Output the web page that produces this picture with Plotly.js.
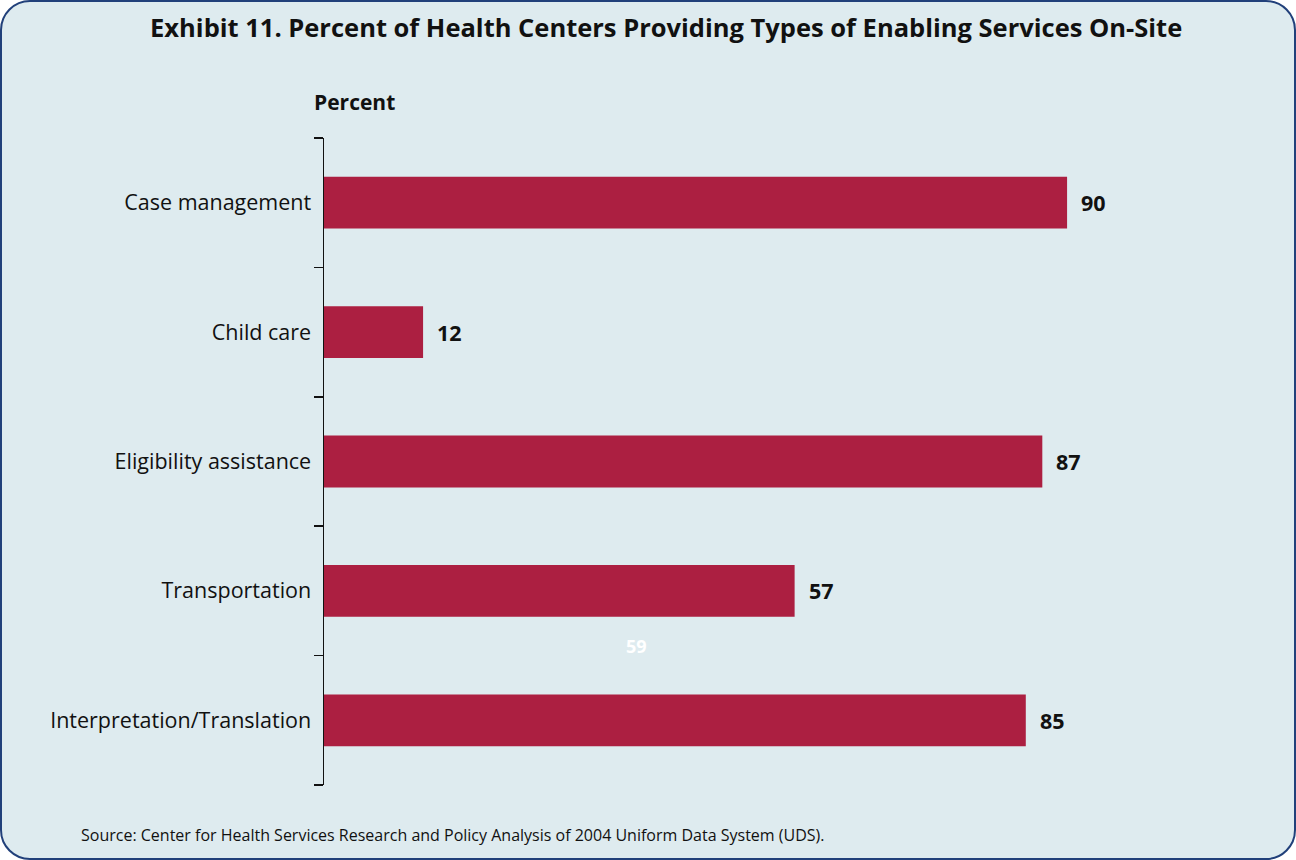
<!DOCTYPE html>
<html>
<head>
<meta charset="utf-8">
<script src="https://cdn.plot.ly/plotly-3.0.1.min.js"></script>
<style>
  html, body { margin: 0; padding: 0; background: #ffffff; }
  #frame { position: absolute; left: 0; top: 0; width: 1296px; height: 860px; box-sizing: border-box;
           border: 2px solid #21407a; border-radius: 30px; background: #deebef; }
  #chart { position: absolute; left: 0; top: 0; width: 1296px; height: 860px; }
</style>
</head>
<body>
<div id="frame"></div>
<div id="chart"></div>
<script>
const categories = ["Case management", "Child care", "Eligibility assistance", "Transportation", "Interpretation/Translation"];
const percents = [90, 12, 87, 57, 85];
const chartTitle = "Exhibit 11. Percent of Health Centers Providing Types of Enabling Services On-Site";
const axisLabel = "Percent";
const sourceNote = "Source: Center for Health Services Research and Policy Analysis of 2004 Uniform Data System (UDS).";
const strayLabel = "59";

const FONT = "'Open Sans', 'Noto Sans', sans-serif";
const barColor = "#ac1f41";

const trace = {
  type: "bar",
  orientation: "h",
  x: percents,
  y: categories,
  marker: { color: barColor, line: { width: 0 } },
  width: 0.4,
  hoverinfo: "skip"
};

// empty helper trace so the boundary-tick overlay axis is drawn
const tickHelper = { type: "scatter", x: [], y: [], xaxis: "x", yaxis: "y2", hoverinfo: "skip", showlegend: false };

const boundaries = [];
for (let i = 0; i <= categories.length; i++) boundaries.push(i - 0.5);

const valueAnnotations = percents.map((v, i) => ({
  x: v, y: categories[i], xref: "x", yref: "y",
  text: "<b>" + v + "</b>", showarrow: false,
  xanchor: "left", yanchor: "middle", xshift: 12,
  font: { family: FONT, size: 21.5, color: "#111111" }
}));

const layout = {
  width: 1296, height: 860,
  paper_bgcolor: "rgba(0,0,0,0)", plot_bgcolor: "rgba(0,0,0,0)",
  margin: { l: 324, r: 6, t: 138, b: 75 },
  showlegend: false,
  title: {
    text: "<b>" + chartTitle + "</b>",
    x: 0.514, xanchor: "center", y: 0.967, yanchor: "middle",
    font: { family: FONT, size: 25.5, color: "#111111" }
  },
  xaxis: {
    range: [0, 117], visible: false, fixedrange: true
  },
  yaxis: {
    type: "category",
    categoryorder: "array", categoryarray: categories,
    range: [4.5, -0.5],
    showline: true, linecolor: "#111111", linewidth: 1.5,
    ticks: "", ticklabelstandoff: 7,
    showgrid: false, zeroline: false,
    tickfont: { family: FONT, size: 21.5, color: "#111111" },
    fixedrange: true
  },
  yaxis2: {
    type: "linear", overlaying: "y", side: "left", anchor: "x",
    range: [4.5, -0.5],
    tickmode: "array", tickvals: boundaries, showticklabels: false,
    ticks: "outside", ticklen: 9, tickwidth: 1.5, tickcolor: "#111111",
    showline: false, showgrid: false, zeroline: false, fixedrange: true
  },
  annotations: valueAnnotations.concat([
    { xref: "paper", yref: "paper", x: 0, y: 1, xanchor: "left", yanchor: "bottom",
      xshift: -12, yshift: 20, text: "<b>" + axisLabel + "</b>", showarrow: false,
      font: { family: FONT, size: 21, color: "#111111" } },
    { xref: "x", yref: "paper", x: 37.9, y: 0.215, xanchor: "center", yanchor: "middle",
      text: "<b>" + strayLabel + "</b>", showarrow: false,
      font: { family: FONT, size: 18, color: "#ffffff" } },
    { xref: "paper", yref: "paper", x: 0, y: 0, xanchor: "left", yanchor: "middle",
      xshift: -245, yshift: -50, text: sourceNote, showarrow: false,
      font: { family: FONT, size: 16, color: "#111111" } }
  ])
};

Plotly.newPlot("chart", [trace, tickHelper], layout, { displayModeBar: false, staticPlot: true });
</script>
</body>
</html>
